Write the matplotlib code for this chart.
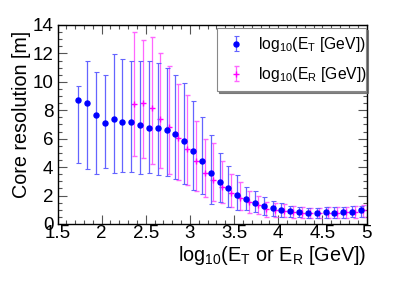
import matplotlib
matplotlib.use('Agg')
import matplotlib.pyplot as plt
import numpy as np
from matplotlib.ticker import MultipleLocator

plt.rcParams['font.family'] = ['Liberation Sans', 'DejaVu Sans']
plt.rcParams['mathtext.fontset'] = 'custom'
plt.rcParams['mathtext.rm'] = 'Liberation Sans'
plt.rcParams['mathtext.it'] = 'Liberation Sans:italic'

# E_T binned resolution (bin centre, value, upper edge, lower edge of bar)
x_t = [1.75, 1.85, 1.95, 2.05, 2.15, 2.25, 2.35, 2.45, 2.55, 2.65, 2.75,
       2.85, 2.95, 3.05, 3.15, 3.25, 3.35, 3.45, 3.55, 3.65, 3.75, 3.85,
       3.95, 4.05, 4.15, 4.25, 4.35, 4.45, 4.55, 4.65, 4.75, 4.85, 4.95]
res_t = [8.73, 8.54, 7.65, 7.08, 7.39, 7.20, 7.16, 6.99, 6.78, 6.76, 6.60,
         6.32, 5.86, 5.17, 4.41, 3.61, 2.98, 2.52, 2.06, 1.74, 1.48, 1.28,
         1.14, 0.99, 0.92, 0.87, 0.76, 0.76, 0.82, 0.80, 0.83, 0.87, 0.95]
hi_t = [9.69, 11.45, 10.67, 10.46, 11.94, 11.59, 11.45, 11.45, 11.45, 11.35, 11.0,
        10.47, 9.90, 8.67, 7.51, 6.25, 4.97, 4.10, 3.44, 2.60, 2.30, 1.90,
        1.60, 1.45, 1.30, 1.22, 1.13, 1.12, 1.18, 1.18, 1.20, 1.25, 1.30]
lo_t = [4.27, 3.87, 3.50, 3.92, 3.57, 3.64, 3.68, 3.50, 3.57, 3.45, 3.35,
        3.20, 2.80, 2.40, 2.10, 1.40, 1.55, 1.22, 1.00, 0.95, 0.85, 0.65,
        0.55, 0.52, 0.50, 0.48, 0.45, 0.42, 0.45, 0.45, 0.45, 0.48, 0.50]

# E_R binned resolution
x_r = [2.35, 2.45, 2.55, 2.65, 2.75, 2.85, 2.95, 3.05, 3.15, 3.25, 3.35,
       3.45, 3.55, 3.65, 3.75, 3.85, 3.95, 4.05, 4.15, 4.25, 4.35, 4.45,
       4.55, 4.65, 4.75, 4.85, 4.95]
res_r = [8.42, 8.51, 8.15, 7.41, 6.85, 6.07, 5.30, 4.42, 3.62, 3.10, 2.60,
         2.16, 1.86, 1.52, 1.32, 1.05, 0.99, 0.92, 0.84, 0.80, 0.75, 0.75,
         0.80, 0.75, 0.82, 0.82, 0.96]
hi_r = [13.49, 12.95, 13.16, 12.0, 11.15, 9.85, 9.10, 7.25, 6.00, 5.72, 4.46,
        3.52, 2.98, 2.35, 2.00, 1.57, 1.50, 1.40, 1.30, 1.22, 1.15, 1.15,
        1.20, 1.18, 1.22, 1.25, 1.34]
lo_r = [4.81, 4.62, 4.21, 3.92, 3.50, 3.12, 2.72, 2.30, 1.88, 1.60, 1.46,
        1.22, 1.00, 0.80, 0.72, 0.52, 0.50, 0.48, 0.45, 0.42, 0.40, 0.40,
        0.42, 0.40, 0.42, 0.44, 0.47]

x_t = np.array(x_t); res_t = np.array(res_t)
x_r = np.array(x_r); res_r = np.array(res_r)
err_t = [res_t - np.array(lo_t), np.array(hi_t) - res_t]
err_r = [res_r - np.array(lo_r), np.array(hi_r) - res_r]

fig = plt.figure(figsize=(3.95, 2.86), dpi=100)
ax = fig.add_axes([0.1456, 0.2168, 0.7824, 0.6958])

ax.errorbar(x_t - 0.015, res_t, yerr=err_t, fmt='o', color='blue', ms=3.6,
            ecolor='#6464ff', elinewidth=0.9, capsize=1.8, capthick=0.8,
            label=r'log$_{10}$(E$_{\mathrm{T}}$ [GeV])', zorder=3)
ax.errorbar(x_r + 0.015, res_r, yerr=err_r, fmt='+', color='magenta', ms=4.5,
            mew=1.0, ecolor='#ff66ff', elinewidth=0.9, capsize=1.8, capthick=0.8,
            label=r'log$_{10}$(E$_{\mathrm{R}}$ [GeV])', zorder=2)

ax.set_xlim(1.5, 5)
ax.set_ylim(0, 14)
ax.xaxis.set_major_locator(MultipleLocator(0.5))
ax.xaxis.set_minor_locator(MultipleLocator(0.1))
ax.yaxis.set_major_locator(MultipleLocator(2))
ax.yaxis.set_minor_locator(MultipleLocator(0.5))
ax.set_xticks([1.5, 2, 2.5, 3, 3.5, 4, 4.5, 5])
ax.set_xticklabels(['1.5', '2', '2.5', '3', '3.5', '4', '4.5', '5'])
ax.tick_params(which='both', direction='in', top=True, right=True,
               labelsize=13.5, color='#555555', width=0.8)
ax.tick_params(which='major', length=6.5)
ax.tick_params(which='minor', length=3.2)
ax.tick_params(axis='x', pad=1)
ax.tick_params(axis='y', pad=3)
for s in ax.spines.values():
    s.set_linewidth(1.0)

ax.set_xlabel(r'log$_{10}$(E$_{\mathrm{T}}$ or E$_{\mathrm{R}}$ [GeV])', fontsize=14.3,
              ha='right', x=1.0, labelpad=1)
ax.set_ylabel('Core resolution [m]', fontsize=14.2, ha='right', y=0.97, labelpad=1)

leg = ax.legend(loc='upper left', bbox_to_anchor=(0.515, 0.985, 0.482, 0.0),
                mode='expand', fontsize=11.3, frameon=True, fancybox=False,
                shadow={'ox': 1.5, 'oy': -1.5, 'color': '#666666', 'alpha': 0.8},
                edgecolor='#888888', handletextpad=0.6,
                labelspacing=0.7, borderaxespad=0, handlelength=1.6,
                borderpad=0.45)
leg.get_frame().set_linewidth(0.8)

fig.savefig('out.png', dpi=100)
